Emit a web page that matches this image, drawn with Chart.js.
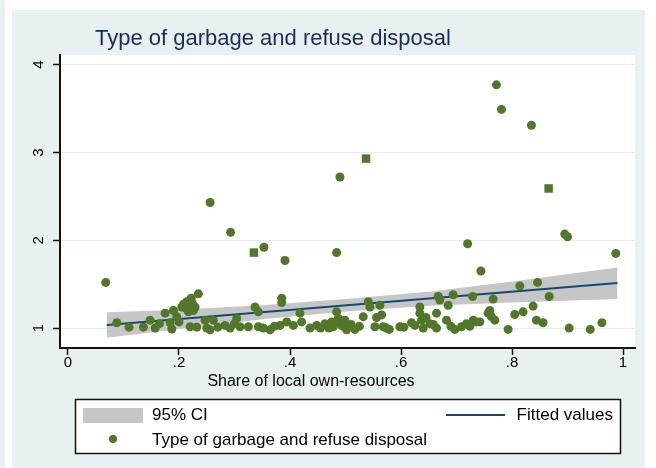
<!DOCTYPE html>
<html>
<head>
<meta charset="utf-8">
<script src="https://cdn.jsdelivr.net/npm/chart.js@4"></script>
<style>
    html, body { margin: 0; padding: 0; background: #fff; }
    canvas { display: block; }
</style>
</head>
<body>
<canvas id="chart" width="656" height="468"></canvas>
<script>
// Axis ticks
const xTicks = [0, 0.2, 0.4, 0.6, 0.8, 1];
const xTickLabels = ['0', '.2', '.4', '.6', '.8', '1'];
const yTicks = [1, 2, 3, 4];
const yTickLabels = ['1', '2', '3', '4'];

// Scatter: share of local own-resources vs type of garbage and refuse disposal
const shareX = [
    0.068, 0.256, 0.293, 0.335, 0.353, 0.391, 0.484, 0.490, 0.537, 0.720,
    0.744, 0.772, 0.781, 0.835, 0.866, 0.895, 0.900, 0.987, 0.814, 0.846,
    0.867, 0.766, 0.729, 0.694, 0.667, 0.670, 0.541, 0.385, 0.385, 0.235,
    0.214, 0.222, 0.088, 0.110, 0.136, 0.148, 0.157, 0.175, 0.184, 0.187,
    0.196, 0.205, 0.217, 0.220, 0.229, 0.232, 0.250, 0.247, 0.262, 0.256,
    0.283, 0.304, 0.310, 0.325, 0.337, 0.343, 0.343, 0.364, 0.382, 0.394,
    0.406, 0.418, 0.421, 0.436, 0.448, 0.463, 0.475, 0.478, 0.484, 0.487,
    0.490, 0.493, 0.499, 0.502, 0.517, 0.532, 0.544, 0.553, 0.562, 0.565,
    0.568, 0.574, 0.579, 0.598, 0.619, 0.634, 0.634, 0.637, 0.640, 0.652,
    0.664, 0.664, 0.682, 0.685, 0.697, 0.709, 0.718, 0.730, 0.736, 0.742,
    0.757, 0.760, 0.763, 0.769, 0.793, 0.805, 0.820, 0.838, 0.844, 0.856,
    0.903, 0.941, 0.962, 0.190, 0.200, 0.165, 0.270, 0.292, 0.300, 0.352,
    0.372, 0.455, 0.470, 0.510, 0.525, 0.605, 0.625, 0.658, 0.690, 0.724,
    0.645, 0.556, 0.213, 0.224, 0.208, 0.226, 0.482, 0.496
];
const garbageY = [
    1.52, 2.43, 2.09, 1.86, 1.92, 1.77, 1.86, 2.72, 2.93, 1.96,
    1.65, 3.77, 3.49, 3.31, 2.59, 2.07, 2.04, 1.85, 1.48, 1.52,
    1.36, 1.33, 1.36, 1.38, 1.36, 1.32, 1.30, 1.34, 1.29, 1.39,
    1.30, 1.34, 1.06, 1.01, 1.01, 1.09, 1.00, 1.17, 1.06, 0.99,
    1.13, 1.24, 1.185, 1.015, 1.24, 1.01, 1.00, 1.09, 1.09, 0.98,
    1.03, 1.11, 1.015, 1.015, 1.24, 1.185, 1.015, 0.98, 1.03, 1.07,
    1.03, 1.17, 1.07, 1.00, 1.03, 1.05, 1.07, 1.015, 1.185, 1.11,
    1.05, 1.03, 1.09, 0.98, 0.985, 1.13, 1.24, 1.015, 1.26, 1.15,
    1.015, 1.00, 0.985, 1.015, 1.06, 1.24, 1.17, 1.09, 1.00, 1.05,
    1.17, 1.00, 1.09, 1.26, 0.985, 1.015, 1.05, 1.09, 1.07, 1.07,
    1.17, 1.20, 1.13, 1.09, 0.985, 1.155, 1.185, 1.25, 1.09, 1.06,
    1.00, 0.985, 1.06, 1.20, 1.07, 1.05, 1.01, 1.00, 1.05, 1.00,
    1.02, 1.00, 1.00, 1.04, 1.02, 1.01, 1.03, 1.04, 1.02, 1.02,
    1.12, 1.12, 1.22, 1.28, 1.27, 1.20, 1.07, 1.02
];
// a few markers come out as squares in the original
const squareMarkers = [3, 8, 14];

// Linear fit with 95% CI
const fitX = [0.07, 0.99];
const fitY = [1.034, 1.512];
const ciX = [0.07, 0.2, 0.35, 0.5, 0.65, 0.8, 0.99];
const ciLow = [0.89, 0.99, 1.10, 1.19, 1.255, 1.29, 1.33];
const ciHigh = [1.18, 1.21, 1.26, 1.33, 1.415, 1.53, 1.69];

const GREEN = '#52762b';
const NAVY = '#1a476f';
const BAND = '#c6c6c6';
const BG = '#e8f0f2';
const FONT = '"Liberation Sans", Arial, sans-serif';

const zip = (xs, ys) => xs.map((x, i) => ({ x: x, y: ys[i] }));

// Stata-like background, title, tick labels and legend
const stataDecor = {
    id: 'stataDecor',
    beforeDraw(chart) {
        const ctx = chart.ctx;
        const a = chart.chartArea;
        ctx.save();
        ctx.fillStyle = '#fff';
        ctx.fillRect(0, 0, chart.width, chart.height);
        ctx.fillStyle = BG;
        ctx.fillRect(0, 0, 5, chart.height);
        ctx.fillRect(12, 10, 633, chart.height - 10);
        ctx.fillStyle = '#fff';
        ctx.fillRect(a.left, a.top, a.right - a.left, a.bottom - a.top);
        ctx.restore();
    },
    afterDraw(chart) {
        const ctx = chart.ctx;
        const xs = chart.scales.x;
        const ys = chart.scales.y;
        ctx.save();

        // title
        ctx.fillStyle = '#1c2b5a';
        ctx.font = '22px ' + FONT;
        ctx.textAlign = 'left';
        ctx.textBaseline = 'alphabetic';
        ctx.fillText('Type of garbage and refuse disposal', 95, 45);

        // x tick labels
        ctx.fillStyle = '#000';
        ctx.font = '15px ' + FONT;
        ctx.textAlign = 'center';
        ctx.textBaseline = 'middle';
        xTicks.forEach((v, i) => {
            ctx.fillText(xTickLabels[i], xs.getPixelForValue(v), 363);
        });

        // y tick labels, vertical like Stata
        yTicks.forEach((v, i) => {
            ctx.save();
            ctx.translate(39, ys.getPixelForValue(v));
            ctx.rotate(-Math.PI / 2);
            ctx.fillText(yTickLabels[i], 0, 0);
            ctx.restore();
        });

        // x axis title
        ctx.font = '16px ' + FONT;
        ctx.fillText('Share of local own-resources', 311, 382);

        // legend
        ctx.fillStyle = '#fff';
        ctx.fillRect(75, 399, 546, 55);
        ctx.strokeStyle = '#111';
        ctx.lineWidth = 1.5;
        ctx.strokeRect(75.5, 399.5, 545, 54);

        ctx.fillStyle = BAND;
        ctx.fillRect(83, 408, 60, 15);

        ctx.strokeStyle = NAVY;
        ctx.lineWidth = 2;
        ctx.beginPath();
        ctx.moveTo(446, 415);
        ctx.lineTo(505, 415);
        ctx.stroke();

        ctx.fillStyle = GREEN;
        ctx.beginPath();
        ctx.arc(113, 439, 4, 0, Math.PI * 2);
        ctx.fill();

        ctx.fillStyle = '#000';
        ctx.font = '17px ' + FONT;
        ctx.textAlign = 'left';
        ctx.fillText('95% CI', 152, 415);
        ctx.fillText('Type of garbage and refuse disposal', 152, 440);
        ctx.textAlign = 'right';
        ctx.fillText('Fitted values', 613, 415);

        ctx.restore();
    }
};

const ctx = document.getElementById('chart').getContext('2d');
const chart = new Chart(ctx, {
    type: 'scatter',
    data: {
        datasets: [
            {
                label: 'Type of garbage and refuse disposal',
                data: zip(shareX, garbageY),
                backgroundColor: GREEN,
                borderColor: GREEN,
                borderWidth: 0,
                pointRadius: (c) => squareMarkers.includes(c.dataIndex) ? 6 : 4.5,
                pointStyle: (c) => squareMarkers.includes(c.dataIndex) ? 'rect' : 'circle',
                order: 0
            },
            {
                type: 'line',
                label: 'Fitted values',
                data: zip(fitX, fitY),
                borderColor: NAVY,
                borderWidth: 2,
                pointRadius: 0,
                fill: false,
                order: 1
            },
            {
                type: 'line',
                label: '95% CI',
                data: zip(ciX, ciHigh),
                borderWidth: 0,
                borderColor: BAND,
                backgroundColor: BAND,
                pointRadius: 0,
                fill: '+1',
                order: 2
            },
            {
                type: 'line',
                label: 'ci low',
                data: zip(ciX, ciLow),
                borderWidth: 0,
                borderColor: BAND,
                pointRadius: 0,
                fill: false,
                order: 3
            }
        ]
    },
    options: {
        responsive: false,
        animation: false,
        devicePixelRatio: 1,
        layout: {
            padding: { left: 12, top: 55, right: 21, bottom: 110 }
        },
        plugins: {
            legend: { display: false },
            tooltip: { enabled: false },
            title: { display: false }
        },
        scales: {
            x: {
                type: 'linear',
                min: -0.0144,
                max: 1.0216,
                afterBuildTicks: (axis) => { axis.ticks = xTicks.map(v => ({ value: v })); },
                afterFit: (axis) => { axis.height = 10; },
                ticks: { display: false },
                grid: {
                    drawOnChartArea: false,
                    drawTicks: true,
                    tickLength: 7,
                    tickColor: '#111',
                    tickWidth: 1.5
                },
                border: { color: '#111', width: 2 }
            },
            y: {
                type: 'linear',
                min: 0.773,
                max: 4.11,
                afterBuildTicks: (axis) => { axis.ticks = yTicks.map(v => ({ value: v })); },
                afterFit: (axis) => { axis.width = 48; },
                ticks: { display: false },
                grid: {
                    color: '#e3ecef',
                    lineWidth: 1,
                    drawTicks: true,
                    tickLength: 7,
                    tickColor: '#111',
                    tickWidth: 1.5
                },
                border: { color: '#111', width: 2 }
            }
        }
    },
    plugins: [stataDecor]
});
</script>
</body>
</html>
